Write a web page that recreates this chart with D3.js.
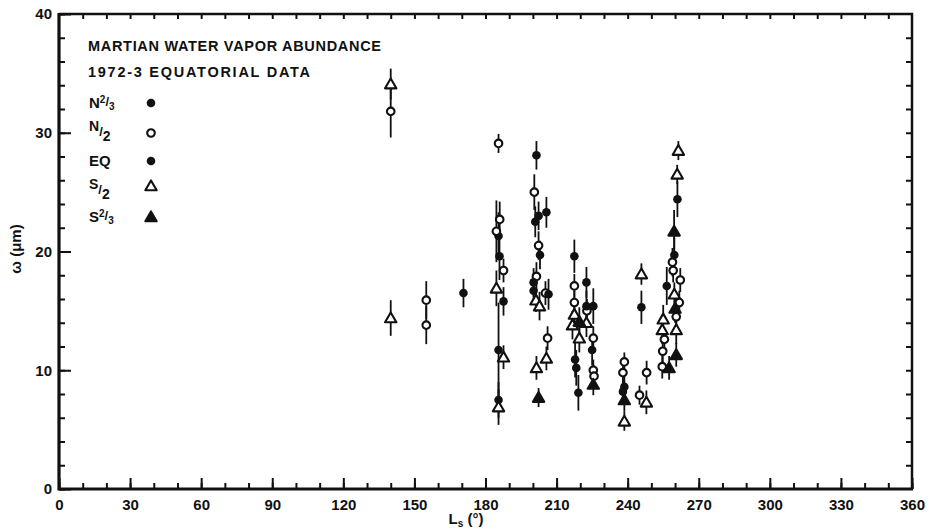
<!DOCTYPE html>
<html>
<head>
<meta charset="utf-8">
<script src="https://cdn.jsdelivr.net/npm/d3@7"></script>
<style>
	body { margin: 0; background: #fff; }
	svg text { font-family: "Liberation Sans", Arial, sans-serif; font-weight: bold; fill: #111; }
</style>
</head>
<body>
<svg id="chart" width="929" height="530"></svg>
<script>
// Each row: [Ls (deg), water vapor (precip. microns), half error bar]
var n23Data = [
	[185.5, 21.3, 2.0], [201.5, 28.1, 1.2], [205.7, 23.3, 1.3], [222.6, 17.4, 1.3],
	[217.5, 19.6, 1.4], [261.0, 24.4, 1.5], [256.5, 17.1, 1.6], [185.5, 11.7, 4.0]
];
var n2Data = [
	[140.0, 31.8, 2.2], [155.0, 15.9, 1.6], [155.0, 13.8, 1.6], [185.5, 29.1, 0.8],
	[186.0, 22.7, 1.5], [184.6, 21.7, 2.6], [187.6, 18.4, 1.0], [200.6, 25.0, 1.5],
	[202.4, 20.5, 1.2], [201.5, 17.9, 1.2], [205.3, 16.5, 1.0], [206.2, 12.7, 1.0],
	[217.5, 17.1, 1.0], [217.5, 15.7, 1.0], [222.8, 15.0, 1.0], [225.5, 12.7, 1.0],
	[225.5, 10.0, 0.9], [225.8, 9.5, 0.9], [238.6, 10.7, 0.8], [238.0, 9.8, 1.0],
	[245.0, 7.9, 0.8], [248.0, 9.8, 1.0], [258.9, 19.1, 1.2], [259.2, 18.4, 1.0],
	[262.2, 17.6, 1.0], [261.8, 15.7, 1.0], [260.5, 14.5, 1.0], [255.5, 12.6, 1.0],
	[254.8, 11.6, 1.0], [254.6, 10.3, 1.0]
];
var eqData = [
	[170.7, 16.5, 1.2], [185.9, 19.6, 2.0], [187.6, 15.8, 1.2], [185.5, 7.5, 1.5],
	[202.4, 23.0, 1.2], [201.0, 22.5, 1.3], [203.0, 19.7, 1.2], [200.3, 17.4, 1.2],
	[200.3, 16.7, 1.2], [206.6, 16.4, 1.3], [217.8, 10.9, 1.5], [218.3, 10.2, 1.5],
	[219.2, 8.1, 1.5], [222.6, 15.4, 1.3], [225.5, 15.4, 1.5], [225.0, 11.7, 1.3],
	[245.8, 15.3, 1.4], [238.6, 8.6, 1.0], [238.0, 8.2, 1.0], [259.7, 19.7, 1.5]
];
var s2Data = [
	[140.0, 34.1, 1.3], [140.0, 14.4, 1.5], [184.6, 16.9, 1.5], [187.6, 11.1, 1.0],
	[185.5, 6.9, 1.5], [201.3, 15.9, 1.0], [202.8, 15.4, 1.2], [201.5, 10.2, 1.0],
	[205.7, 11.0, 1.0], [217.5, 14.7, 1.2], [216.7, 13.8, 1.2], [219.6, 12.7, 1.2],
	[222.6, 14.0, 1.2], [245.8, 18.1, 0.9], [238.6, 5.7, 0.8], [247.9, 7.3, 1.0],
	[261.4, 28.5, 0.8], [260.9, 26.5, 0.8], [259.7, 16.4, 1.0], [255.0, 14.3, 1.2],
	[254.6, 13.4, 1.2], [260.5, 13.4, 1.2]
];
var s23Data = [
	[202.4, 7.7, 0.8], [219.6, 14.1, 1.2], [225.5, 8.8, 0.9], [238.6, 7.5, 1.0],
	[259.6, 21.7, 1.8], [260.0, 15.2, 1.2], [260.5, 11.3, 1.0], [257.5, 10.2, 1.0]
];

var xTickLabels = [0, 30, 60, 90, 120, 150, 180, 210, 240, 270, 300, 330, 360];
var yTickLabels = [0, 10, 20, 30, 40];
var titleLines = ["MARTIAN WATER VAPOR ABUNDANCE", "1972-3  EQUATORIAL DATA"];

var svg = d3.select("#chart");
// plot box edges (note: "top" is a reserved window property, so prefixed names)
var boxLeft = 59, boxRight = 912, boxTop = 14, boxBottom = 489;

var x = d3.scaleLinear().domain([0, 360]).range([boxLeft, boxRight]);
var y = d3.scaleLinear().domain([0, 40]).range([boxBottom, boxTop]);

// ticks, all pointing inward
function tickAxis(axis, g) {
	g.call(axis);
	g.select(".domain").remove();
	g.selectAll(".tick line").attr("stroke", "#111").attr("stroke-width", 2);
	g.selectAll(".tick text").attr("font-size", 15).attr("fill", "#111");
}

svg.append("g").attr("transform", "translate(0," + boxBottom + ")")
	.call(function(g) { tickAxis(d3.axisBottom(x).tickValues(d3.range(0, 361, 10)).tickSize(-6).tickFormat(""), g); });
svg.append("g").attr("transform", "translate(0," + boxBottom + ")")
	.call(function(g) { tickAxis(d3.axisBottom(x).tickValues(xTickLabels).tickSize(-11).tickPadding(10).tickFormat(d3.format("d")), g); });
svg.append("g").attr("transform", "translate(0," + boxTop + ")")
	.call(function(g) { tickAxis(d3.axisTop(x).tickValues(d3.range(10, 360, 10)).tickSize(-5).tickFormat(""), g); });

svg.append("g").attr("transform", "translate(" + boxLeft + ",0)")
	.call(function(g) { tickAxis(d3.axisLeft(y).tickValues(d3.range(0, 41, 2)).tickSize(-6).tickFormat(""), g); });
svg.append("g").attr("transform", "translate(" + boxLeft + ",0)")
	.call(function(g) { tickAxis(d3.axisLeft(y).tickValues(yTickLabels).tickSize(-12).tickPadding(7).tickFormat(d3.format("d")), g); });
svg.append("g").attr("transform", "translate(" + boxRight + ",0)")
	.call(function(g) { tickAxis(d3.axisRight(y).tickValues(d3.range(2, 40, 2)).tickSize(-6).tickFormat(""), g); });

// frame
svg.append("path")
	.attr("d", "M" + boxLeft + "," + boxTop + "H" + boxRight + "V" + boxBottom)
	.attr("fill", "none").attr("stroke", "#111").attr("stroke-width", 2.5);
svg.append("path")
	.attr("d", "M" + boxLeft + "," + (boxTop - 1) + "V" + boxBottom + "H" + (boxRight + 1))
	.attr("fill", "none").attr("stroke", "#111").attr("stroke-width", 3.2);

// axis titles
svg.append("text")
	.attr("transform", "translate(21,249) rotate(-90)")
	.attr("text-anchor", "middle").attr("font-size", 15)
	.text("\u03c9 (\u03bcm)");
var xl = svg.append("text").attr("x", 466).attr("y", 524).attr("text-anchor", "middle").attr("font-size", 15);
xl.append("tspan").text("L");
xl.append("tspan").attr("dy", 3).attr("font-size", 10).text("s");
xl.append("tspan").attr("dy", -3).text(" (\u00b0)");

// markers
var series = [
	{data: n23Data, shape: "circle", fill: true},
	{data: n2Data, shape: "circle", fill: false},
	{data: eqData, shape: "circle", fill: true},
	{data: s2Data, shape: "triangle", fill: false},
	{data: s23Data, shape: "triangle", fill: true}
];

function drawMarker(g, shape, fill) {
	if (shape == "circle") {
		g.append("circle")
			.attr("r", fill ? 4.3 : 3.8)
			.attr("fill", fill ? "#111" : "#fff")
			.attr("stroke", "#111").attr("stroke-width", fill ? 0 : 2.1);
	}
	else {
		g.append("path")
			.attr("d", d3.symbol(d3.symbolTriangle, 56)())
			.attr("transform", "translate(0,1)")
			.attr("fill", fill ? "#111" : "#fff")
			.attr("stroke", "#111").attr("stroke-width", 2.1).attr("stroke-linejoin", "round");
	}
}

var plot = svg.append("g");
series.forEach(function(s) {
	plot.selectAll(null).data(s.data).enter().append("line")
		.attr("x1", function(d) { return x(d[0]); })
		.attr("x2", function(d) { return x(d[0]); })
		.attr("y1", function(d) { return y(d[1] - d[2]); })
		.attr("y2", function(d) { return y(d[1] + d[2]); })
		.attr("stroke", "#111").attr("stroke-width", 1.8);
});
series.forEach(function(s) {
	plot.selectAll(null).data(s.data).enter().append("g")
		.attr("transform", function(d) { return "translate(" + x(d[0]) + "," + y(d[1]) + ")"; })
		.each(function() { drawMarker(d3.select(this), s.shape, s.fill); });
});

// legend block
svg.selectAll(".title").data(titleLines).enter().append("text")
	.attr("class", "title")
	.attr("x", 88)
	.attr("y", function(d, i) { return 51 + i * 26; })
	.attr("font-size", 14.5)
	.attr("textLength", function(d, i) { return i == 0 ? 293 : 222; })
	.text(function(d) { return d; });

var legendRows = [
	{parts: [["N", 0, 15], ["2", -5, 10], ["/", 3, 13], ["3", 4, 10]]},
	{parts: [["N", -4, 14], ["/", 5, 13], ["2", 5, 14]]},
	{parts: [["EQ", 0, 15]]},
	{parts: [["S", -4, 14], ["/", 5, 13], ["2", 5, 14]]},
	{parts: [["S", 0, 15], ["2", -5, 10], ["/", 3, 13], ["3", 4, 10]]}
];
var legendY = [108, 135, 166, 193, 222];
var legendMarkY = [103, 133, 161, 186, 217];

legendRows.forEach(function(row, i) {
	var t = svg.append("text").attr("x", 89).attr("y", legendY[i]);
	row.parts.forEach(function(p) {
		t.append("tspan").attr("dy", p[1]).attr("font-size", p[2]).text(p[0]);
	});
	var g = svg.append("g").attr("transform", "translate(151," + legendMarkY[i] + ")");
	drawMarker(g, series[i].shape, series[i].fill);
});
</script>
</body>
</html>
